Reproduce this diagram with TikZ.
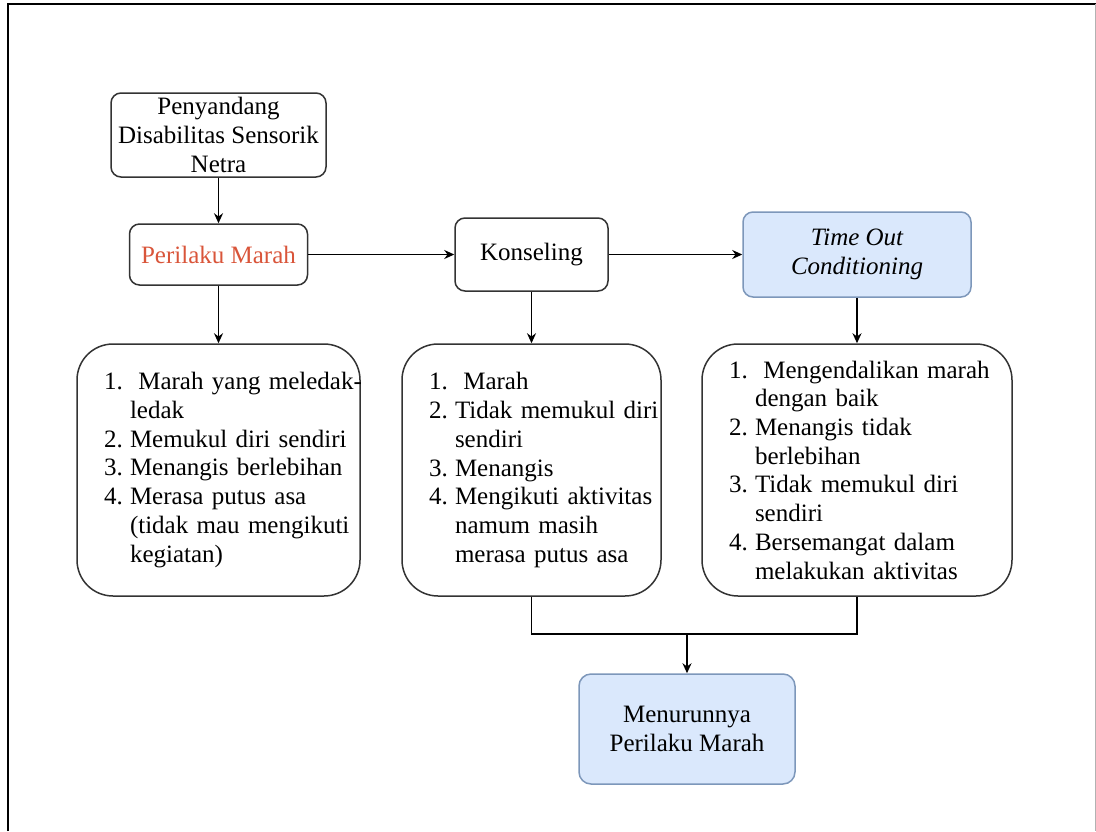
\documentclass[tikz,border=0pt]{standalone}
\usepackage{fontspec}
\setmainfont{Liberation Serif}
\usetikzlibrary{arrows.meta}
\definecolor{boxline}{HTML}{333333}
\definecolor{angerred}{HTML}{D9553A}
\definecolor{bluefill}{HTML}{DAE8FC}
\definecolor{blueline}{HTML}{7D97BA}
\newcommand\diagfont{\fontsize{25}{28.7}\selectfont}
\newcommand\lbl[1]{\makebox[26pt][l]{#1.}}
\newcommand\itm[2]{\lbl{#1}\mbox{#2}}
\newcommand\cont[1]{\hspace*{26pt}\mbox{#1}}

\begin{document}
\begin{tikzpicture}[x=1pt,y=-1pt,
   every node/.style={font=\diagfont,inner sep=0pt},
   box/.style={draw=boxline,line width=1.5pt,rounded corners=10pt,align=center},
   listbox/.style={box,rounded corners=36pt,align=left,minimum height=252pt,inner xsep=27pt},
   bluebox/.style={box,fill=bluefill,draw=blueline},
   arr/.style={-{Stealth[length=10pt,width=9pt]},line width=1.6pt}]
\useasboundingbox (0,0) rectangle (1096,831);
% page frame
\draw[line width=2.5pt] (8,831) -- (8,4) -- (1096,4);
\draw[gray!60,line width=1pt] (1095,4) -- (1095,831);

% top row
\node[box,minimum width=215pt,minimum height=84pt] (penyandang) at (218.5,135)
   {Penyandang\\Disabilitas Sensorik\\Netra};
\node[box,text=angerred,minimum width=178pt,minimum height=61pt] (marah) at (218.5,254.5)
   {Perilaku Marah};
\node[box,minimum width=153pt,minimum height=73pt] (konseling) at (531.5,254.5)
   {Konseling};
\node[bluebox,font=\diagfont\itshape,minimum width=228pt,minimum height=85pt] (timeout) at (857,254.5)
   {Time Out\\Conditioning};

% lists
\node[listbox,text width=229pt] (gejala) at (218.5,470)
   {\itm{1}{\ Marah yang meledak-}\\
    \cont{ledak}\\
    \itm{2}{Memukul diri sendiri}\\
    \itm{3}{Menangis berlebihan}\\
    \itm{4}{Merasa putus asa}\\
    \cont{(tidak mau mengikuti}\\
    \cont{kegiatan)}};
\node[listbox,text width=205pt] (hasilkons) at (531.5,470)
   {\itm{1}{\ Marah}\\
    \itm{2}{Tidak memukul diri}\\
    \cont{sendiri}\\
    \itm{3}{Menangis}\\
    \itm{4}{Mengikuti aktivitas}\\
    \cont{namum masih}\\
    \cont{merasa putus asa}};
\node[listbox,text width=256pt] (hasiltoc) at (857,470)
   {\itm{1}{\ Mengendalikan marah}\\
    \cont{dengan baik}\\
    \itm{2}{Menangis tidak}\\
    \cont{berlebihan}\\
    \itm{3}{Tidak memukul diri}\\
    \cont{sendiri}\\
    \itm{4}{Bersemangat dalam}\\
    \cont{melakukan aktivitas}};

% result
\node[bluebox,rounded corners=12pt,minimum width=216pt,minimum height=110pt] (turun) at (687,729)
   {Menurunnya\\Perilaku Marah};
\coordinate (join) at (687,634);

\draw[arr] (penyandang) -- (marah);
\draw[arr] (marah) -- (konseling);
\draw[arr] (konseling) -- (timeout);
\draw[arr] (marah) -- (gejala);
\draw[arr] (konseling) -- (hasilkons);
\draw[arr] (timeout) -- (hasiltoc);
\draw[line width=1.6pt] (hasilkons.south) |- (join) -| (hasiltoc.south);
\draw[arr] (join) -- (turun);
\end{tikzpicture}
\end{document}
